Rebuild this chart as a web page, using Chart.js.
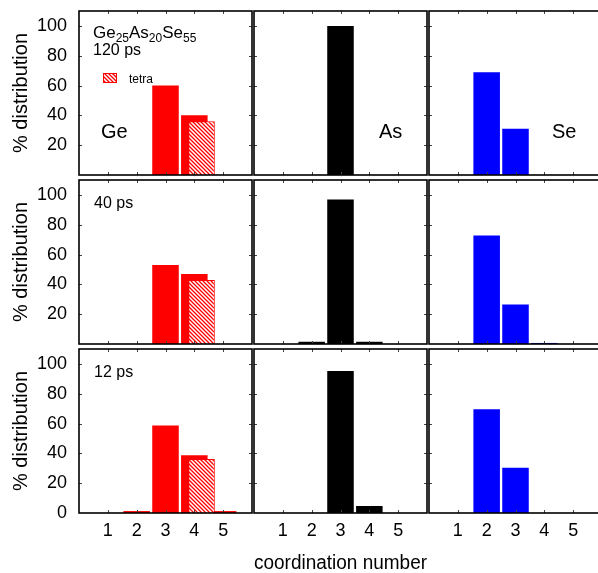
<!DOCTYPE html>
<html>
<head>
<meta charset="utf-8">
<script src="https://cdn.jsdelivr.net/npm/chart.js@4.4.1/dist/chart.umd.min.js"></script>
<style>
  html, body { margin: 0; padding: 0; background: #fff; }
  body { width: 598px; height: 573px; position: relative; overflow: hidden; }
  canvas { position: absolute; }
</style>
</head>
<body>
<script>
// data
const coordNumbers = [1, 2, 3, 4, 5];
const yTickValues = [0, 20, 40, 60, 80, 100];
const times = ['120 ps', '40 ps', '12 ps'];
const elements = ['Ge', 'As', 'Se'];
const tetraLabel = 'tetra';

// % distribution for coordination numbers 1..5 (null = no bar)
const ge120 = [null, null, 60, 40, null];
const geTetra120 = [null, null, null, 36, null];
const as120 = [null, null, 100, null, null];
const se120 = [null, 69, 31, null, null];

const ge40 = [null, null, 53, 47, null];
const geTetra40 = [null, null, null, 43, null];
const as40 = [null, 1.5, 97, 1.5, null];
const se40 = [null, 72.8, 26.5, 0.7, null];

const ge12 = [null, 1.3, 58.7, 38.7, 1.3];
const geTetra12 = [null, null, null, 36.3, null];
const as12 = [null, null, 95.3, 4.7, null];
const se12 = [null, 69.6, 30.4, null, null];

const series = [
  [ge120, as120, se120],
  [ge40, as40, se40],
  [ge12, as12, se12]
];
const tetra = [geTetra120, geTetra40, geTetra12];

// layout
const colLeft = [79, 254, 429], panelW = 173;
const rowTop = [11, 180, 349], panelH = 164;
const pad = 2, bottomAxisH = 60;
const tetraShift = 0.25;
const colors = ['#ff0000', '#000000', '#0000ff'];
const FONT = "'Liberation Sans', Arial, Helvetica, sans-serif";

Chart.defaults.font.family = FONT;

function hatch(color) {
  const c = document.createElement('canvas');
  c.width = c.height = 4;
  const g = c.getContext('2d');
  g.fillStyle = '#fff';
  g.fillRect(0, 0, 4, 4);
  g.strokeStyle = color;
  g.lineWidth = 1.3;
  g.beginPath();
  g.moveTo(-1, -1); g.lineTo(5, 5);
  g.moveTo(-1, 3); g.lineTo(1, 5);
  g.moveTo(3, -1); g.lineTo(5, 1);
  g.stroke();
  return g.createPattern(c, 'repeat');
}
const hatchRed = hatch('#ff0000');

function pts(vals) {
  return coordNumbers.map((x, i) => ({ x: x, y: vals[i] })).filter(p => p.y !== null);
}

function setTicks(values) {
  return s => { s.ticks = values.map(v => ({ value: v })); };
}

function drawChem(ctx, x, y, parts) {
  parts.forEach(([el, n]) => {
    ctx.font = '17px ' + FONT;
    ctx.fillText(el, x, y);
    x += ctx.measureText(el).width;
    ctx.font = '12px ' + FONT;
    ctx.fillText(n, x, y + 4);
    x += ctx.measureText(n).width;
  });
}

function panelPlugin(r, c) {
  return {
    id: 'panel',
    afterDraw(chart) {
      const { ctx, chartArea: a, scales } = chart;
      ctx.save();
      // inward tick marks
      ctx.strokeStyle = '#444';
      ctx.lineWidth = 1;
      ctx.beginPath();
      coordNumbers.forEach(v => {
        const x = Math.round(scales.x.getPixelForValue(v)) + 0.5;
        ctx.moveTo(x, a.bottom); ctx.lineTo(x, a.bottom - 3);
        ctx.moveTo(x, a.top); ctx.lineTo(x, a.top + 3);
      });
      yTickValues.forEach(v => {
        if (v === 0) return;
        const y = Math.round(scales.y.getPixelForValue(v)) + 0.5;
        ctx.moveTo(a.left, y); ctx.lineTo(a.left + 3, y);
        ctx.moveTo(a.right, y); ctx.lineTo(a.right - 3, y);
      });
      ctx.stroke();
      // frame
      ctx.strokeStyle = '#000';
      ctx.lineWidth = 1.6;
      ctx.strokeRect(a.left, a.top, a.width, a.height);

      ctx.fillStyle = '#000';
      ctx.textBaseline = 'alphabetic';
      if (c === 0) {
        if (r === 0) {
          drawChem(ctx, a.left + 14, a.top + 26.5, [['Ge', '25'], ['As', '20'], ['Se', '55']]);
          ctx.font = '16px ' + FONT;
          ctx.fillText(times[0], a.left + 14, a.top + 44);
          // legend
          ctx.fillStyle = hatchRed;
          ctx.fillRect(a.left + 24, a.top + 62, 14, 10);
          ctx.strokeStyle = '#ff0000';
          ctx.lineWidth = 1;
          ctx.strokeRect(a.left + 24.5, a.top + 62.5, 13, 9);
          ctx.fillStyle = '#000';
          ctx.font = '12px ' + FONT;
          ctx.fillText(tetraLabel, a.left + 50, a.top + 72);
        } else {
          ctx.font = '16px ' + FONT;
          ctx.fillText(times[r], a.left + 15, a.top + 27.5);
        }
      }
      if (r === 0) {
        const dx = [22, 125, 123][c];
        ctx.font = '20px ' + FONT;
        ctx.fillText(elements[c], a.left + dx, a.top + 127);
      }
      ctx.restore();
    }
  };
}

for (let r = 0; r < 3; r++) {
  for (let c = 0; c < 3; c++) {
    const cv = document.createElement('canvas');
    const left = c === 0 ? 0 : colLeft[c] - pad;
    const width = c === 0 ? colLeft[0] + panelW + pad : panelW + 2 * pad;
    const top = rowTop[r] - pad;
    const height = r === 2 ? pad + panelH + bottomAxisH : panelH + 2 * pad;
    cv.width = width;
    cv.height = height;
    cv.style.left = left + 'px';
    cv.style.top = top + 'px';
    cv.style.width = width + 'px';
    cv.style.height = height + 'px';
    document.body.appendChild(cv);

    const datasets = [{
      data: pts(series[r][c]),
      backgroundColor: colors[c],
      borderWidth: 0,
      order: 1,
      grouped: false,
      categoryPercentage: 1,
      barPercentage: 0.92
    }];
    const scales = {
      x: {
        type: 'linear', min: 0, max: 6, offset: false,
        display: r === 2,
        grid: { display: false, drawTicks: false },
        border: { display: false },
        afterBuildTicks: setTicks(coordNumbers),
        ticks: { font: { size: 18 }, color: '#000', padding: 7 },
        title: {
          display: r === 2 && c === 1, text: 'coordination number', color: '#000',
          font: { size: 20, lineHeight: 1 }, padding: { top: 0, bottom: 0 }
        },
        afterFit: s => {
          if (r === 2) s.height = bottomAxisH;
          s.paddingLeft = 0; s.paddingRight = 0;
        }
      },
      y: {
        min: 0, max: 110,
        display: c === 0,
        grid: { display: false, drawTicks: false },
        border: { display: false },
        afterBuildTicks: setTicks(yTickValues),
        ticks: {
          font: { size: 18 }, color: '#000', padding: 12,
          callback: v => (r < 2 && v === 0) ? '' : String(v)
        },
        title: {
          display: true, text: '% distribution', color: '#000',
          font: { size: 20, lineHeight: 1 }, padding: { top: 11.5, bottom: 0 }
        },
        afterFit: s => {
          if (c === 0) s.width = colLeft[0];
          s.paddingTop = 0; s.paddingBottom = 0;
        }
      }
    };
    if (c === 0) {
      datasets.unshift({
        data: pts(tetra[r]),
        xAxisID: 'x2',
        backgroundColor: hatchRed,
        borderColor: '#ff0000',
        borderWidth: 1,
        order: 0,
        grouped: false,
        categoryPercentage: 1,
        barPercentage: 0.92
      });
      scales.x2 = {
        type: 'linear', min: -tetraShift, max: 6 - tetraShift, offset: false,
        display: false,
        grid: { display: false },
        afterBuildTicks: setTicks(coordNumbers)
      };
    }

    new Chart(cv, {
      type: 'bar',
      data: { datasets: datasets },
      options: {
        responsive: false,
        animation: false,
        events: [],
        layout: {
          autoPadding: false,
          padding: { left: c === 0 ? 0 : pad, right: pad, top: pad, bottom: r === 2 ? 0 : pad }
        },
        plugins: { legend: { display: false }, tooltip: { enabled: false } },
        scales: scales
      },
      plugins: [panelPlugin(r, c)]
    });
  }
}
</script>
</body>
</html>
